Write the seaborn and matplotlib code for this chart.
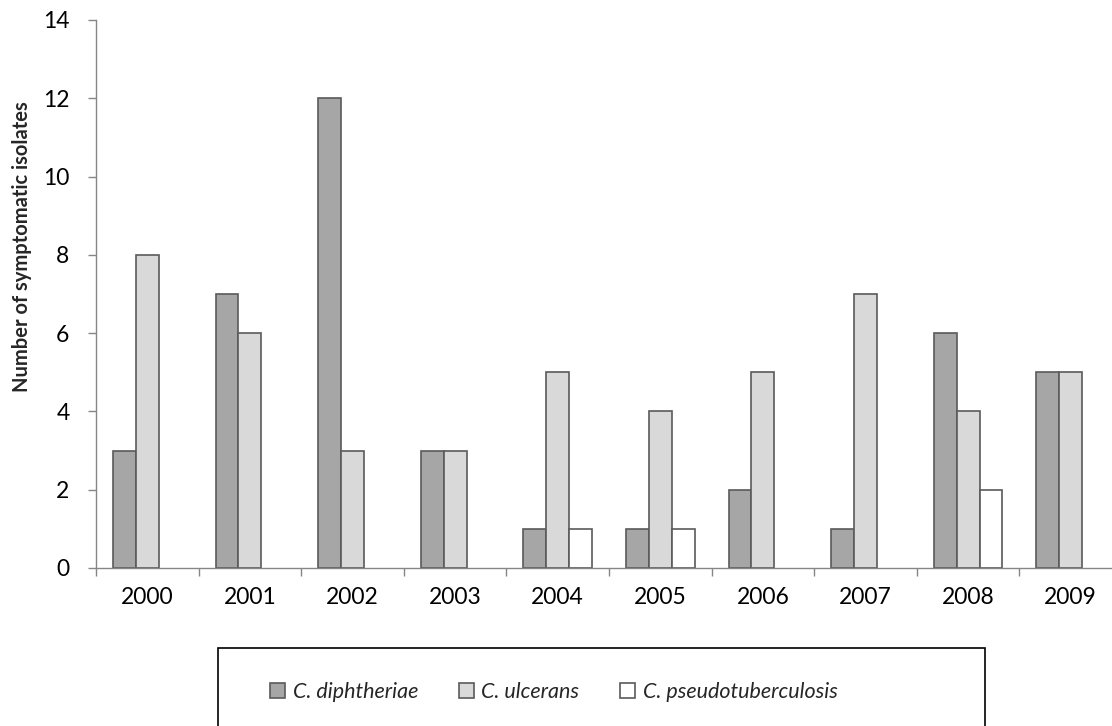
import matplotlib
matplotlib.use("Agg")
import matplotlib.pyplot as plt
import seaborn as sns
import pandas as pd
from matplotlib.patches import Patch, Rectangle

years = ["2000", "2001", "2002", "2003", "2004", "2005", "2006", "2007", "2008", "2009"]
species = ["C. diphtheriae", "C. ulcerans", "C. pseudotuberculosis"]
diphtheriae = [3, 7, 12, 3, 1, 1, 2, 1, 6, 5]
ulcerans = [8, 6, 3, 3, 5, 4, 5, 7, 4, 5]
pseudotb = [0, 0, 0, 0, 1, 1, 0, 0, 2, 0]
colors = ["#A6A6A6", "#D9D9D9", "#FFFFFF"]
y_ticks = [0, 2, 4, 6, 8, 10, 12, 14]

rows = []
for sp, vals in zip(species, [diphtheriae, ulcerans, pseudotb]):
    for yr, v in zip(years, vals):
        if v > 0:
            rows.append({"year": yr, "species": sp, "count": v})
df = pd.DataFrame(rows)

sns.set_theme(style="white")
plt.rcParams["font.family"] = ["Lato", "DejaVu Sans"]

W, H = 1112, 726
fig = plt.figure(figsize=(W / 100, H / 100), dpi=100)
ax = fig.add_axes([96 / W, 1 - 568 / H, 1026 / W, 548 / H])

edge = "#5A5A5A"
sns.barplot(data=df, x="year", y="count", hue="species", order=years,
            hue_order=species, palette=colors, width=0.67, dodge=True,
            edgecolor=edge, linewidth=1.2, saturation=1, ax=ax, legend=False,
            errorbar=None)

tick_fs = 16.5
ax.set_xlim(-0.5, 9.5)
ax.set_ylim(0, 14)
ax.set_yticks(y_ticks)
ax.set_yticklabels([str(t) for t in y_ticks], fontsize=tick_fs, color="black")
ax.set_xticks(range(len(years)))
ax.set_xticklabels(years, fontsize=tick_fs, color="black")
ax.set_xticks([i - 0.5 for i in range(len(years) + 1)], minor=True)
ax.tick_params(axis="x", which="major", length=0, pad=14)
ax.tick_params(axis="x", which="minor", length=6, width=1, color="#868686", direction="out")
ax.tick_params(axis="y", which="major", length=6, width=1, color="#868686", direction="out", pad=13)
ax.tick_params(left=True, bottom=True)
ax.tick_params(axis="x", which="minor", bottom=True)

for s in ["top", "right"]:
    ax.spines[s].set_visible(False)
for s in ["left", "bottom"]:
    ax.spines[s].set_color("#868686")
    ax.spines[s].set_linewidth(1)

ax.set_xlabel("")
ax.set_ylabel("Number of symptomatic isolates", fontsize=14.5, fontweight="bold")
ax.yaxis.set_label_coords((32 - 96) / 1026, (568 - 247) / 548)

# legend frame
fig.patches.append(Rectangle((218 / W, 1 - 760 / H), (985 - 218) / W, (760 - 648) / H,
                             transform=fig.transFigure, fill=False, edgecolor="black",
                             linewidth=1.2, clip_on=False))
handles = [Patch(facecolor=c, edgecolor=edge, linewidth=1.2, label=s) for c, s in zip(colors, species)]
leg = fig.legend(handles=handles, loc="center left", bbox_to_anchor=(270 / W, 1 - 692 / H),
                 ncol=3, frameon=False, fontsize=15.5, handlelength=0.7, handleheight=0.7,
                 handletextpad=0.35, columnspacing=1.9, borderpad=0, borderaxespad=0)
for t in leg.get_texts():
    t.set_fontstyle("italic")

fig.savefig("out.png", dpi=100)
